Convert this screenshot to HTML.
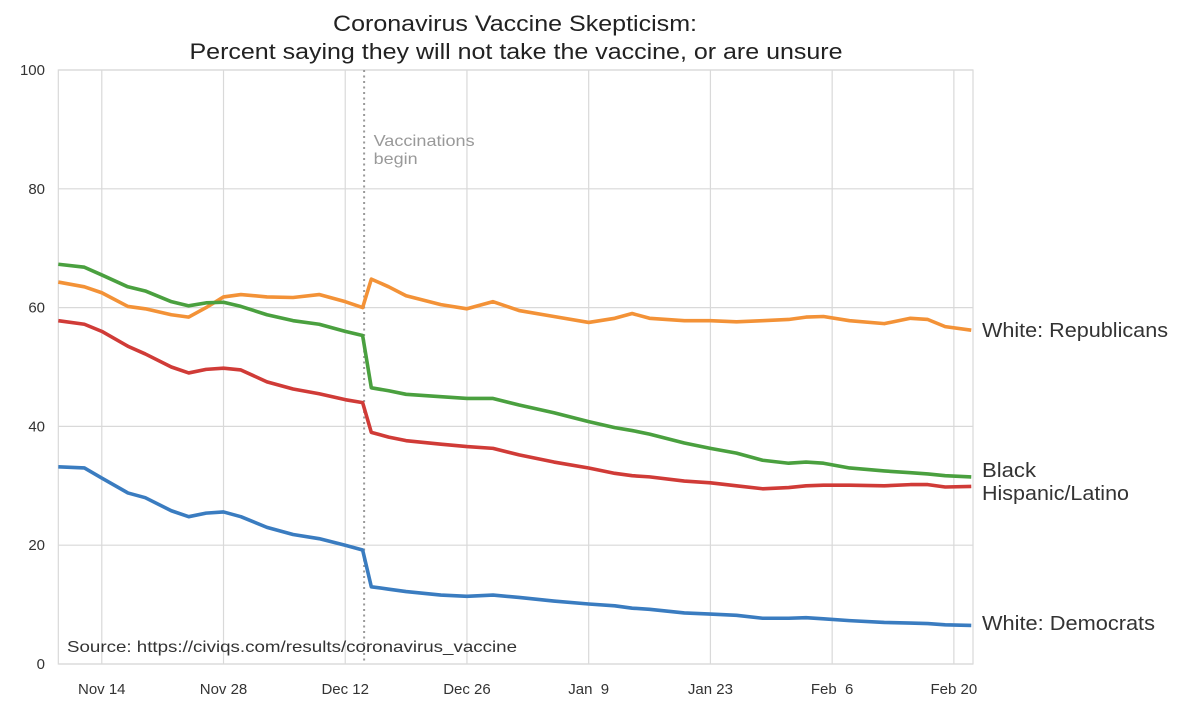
<!DOCTYPE html>
<html><head><meta charset="utf-8"><style>
body{margin:0;background:#fff;}
svg{display:block;font-family:"Liberation Sans",Arial,sans-serif;}
</style></head><body>
<svg id="chart" width="1200" height="711"></svg>
<script>
const days = [0,3,5,8,10,13,15,17,19,21,24,27,30,33,35,36,38,40,44,47,50,53,57,61,64,66,68,72,75,78,81,84,86,88,91,95,98,100,102,105];
const repVals = [64.3,63.5,62.5,60.2,59.8,58.8,58.4,60,61.8,62.2,61.8,61.7,62.2,61,60,64.8,63.5,62,60.5,59.8,61,59.5,58.5,57.5,58.2,59,58.2,57.8,57.8,57.6,57.8,58,58.4,58.5,57.8,57.3,58.2,58,56.8,56.2];
const blackVals = [67.3,66.8,65.5,63.5,62.8,61,60.3,60.8,60.9,60.2,58.8,57.8,57.2,56,55.3,46.5,46,45.4,45,44.7,44.7,43.6,42.3,40.8,39.8,39.3,38.7,37.2,36.3,35.5,34.3,33.8,34,33.8,33,32.5,32.2,32,31.7,31.5];
const hispVals = [57.8,57.2,56,53.5,52.2,50,49,49.6,49.8,49.5,47.5,46.3,45.5,44.5,44,39,38.2,37.6,37,36.6,36.3,35.2,34,33,32.1,31.7,31.5,30.8,30.5,30,29.5,29.7,30,30.1,30.1,30,30.2,30.2,29.8,29.9];
const demVals = [33.2,33,31.3,28.8,28,25.8,24.8,25.4,25.6,24.8,23,21.8,21.1,20,19.2,13,12.6,12.2,11.6,11.4,11.6,11.2,10.6,10.1,9.8,9.4,9.2,8.6,8.4,8.2,7.7,7.7,7.8,7.6,7.3,7,6.9,6.8,6.6,6.5];
const yTicks = [0,20,40,60,80,100];
const xTickDays = [5,19,33,47,61,75,89,103];
const xTickLabels = ["Nov 14","Nov 28","Dec 12","Dec 26","Jan  9","Jan 23","Feb  6","Feb 20"];
const vaccDay = 35;

const NS="http://www.w3.org/2000/svg";
const svg=document.getElementById('chart');
const L=58.3,R=973,T=70,B=664;
const x=d=>L+(d)*(R-L)/105.2;
const y=v=>B-(v)*(B-T)/100;
function mk(tag,attrs,parent){const e=document.createElementNS(NS,tag);for(const k in attrs)e.setAttribute(k,attrs[k]);(parent||svg).appendChild(e);return e;}

const grid=mk('g',{});


yTicks.forEach(t=>{
  const l=mk('line',{x1:L,x2:R,y1:y(t),y2:y(t),stroke:'#d9d9d9','stroke-width':1.2},grid);
  
  
  const tx=mk('text',{x:45,y:y(t)+5,'text-anchor':'end','font-size':15,fill:'#333'});
  tx.textContent=t;
  
  
});
xTickDays.forEach((d,i)=>{
  const l=mk('line',{x1:x(d),x2:x(d),y1:T,y2:B,stroke:'#d9d9d9','stroke-width':1.2},grid);
  
  
  const tx=mk('text',{x:x(d),y:694,'text-anchor':'middle','font-size':15,fill:'#333',style:'white-space:pre'});
  tx.textContent=xTickLabels[i];
  
  
});
const frame=mk('rect',{x:L,y:T,width:R-L,height:B-T,fill:'none',stroke:'#d9d9d9','stroke-width':1.2});



const vl=mk('line',{x1:x(vaccDay)+1.5,x2:x(vaccDay)+1.5,y1:T,y2:B,stroke:'#999','stroke-width':2,'stroke-dasharray':'2,3.5'});


const ax=x(vaccDay)+11;
const va1=mk('text',{x:ax,y:146,'font-size':16,fill:'#999',textLength:101,lengthAdjust:'spacingAndGlyphs'});
va1.textContent='Vaccinations';


const va2=mk('text',{x:ax,y:164,'font-size':16,fill:'#999',textLength:44,lengthAdjust:'spacingAndGlyphs'});
va2.textContent='begin';



const series=[[repVals,'#f39237','republicans-line'],[blackVals,'#4aa03f','black-line'],[hispVals,'#d03b37','hispanic-line'],[demVals,'#3a7cc0','democrats-line']];
series.forEach(([vals,c,n])=>{
  const p=mk('polyline',{points:vals.map((v,i)=>x(days[i])+','+y(v)).join(' '),fill:'none',stroke:c,'stroke-width':3.6,'stroke-linejoin':'round'});
  
  
});

const src=mk('text',{x:67,y:652,'font-size':16,fill:'#333',textLength:450,lengthAdjust:'spacingAndGlyphs'});
src.textContent='Source: https://civiqs.com/results/coronavirus_vaccine';



const labels=[['White: Republicans',337,186],['Black',477,54],['Hispanic/Latino',500,147],['White: Democrats',630,173]];
labels.forEach(([t,yy,w])=>{
  const e=mk('text',{x:982,y:yy,'font-size':20,fill:'#333',textLength:w,lengthAdjust:'spacingAndGlyphs'});
  e.textContent=t;
  
  
});
const t1=mk('text',{x:515,y:31,'text-anchor':'middle','font-size':22,fill:'#222',textLength:364,lengthAdjust:'spacingAndGlyphs'});
t1.textContent='Coronavirus Vaccine Skepticism:';


const t2=mk('text',{x:516,y:59,'text-anchor':'middle','font-size':22,fill:'#222',textLength:653,lengthAdjust:'spacingAndGlyphs'});
t2.textContent='Percent saying they will not take the vaccine, or are unsure';


</script>
</body></html>
